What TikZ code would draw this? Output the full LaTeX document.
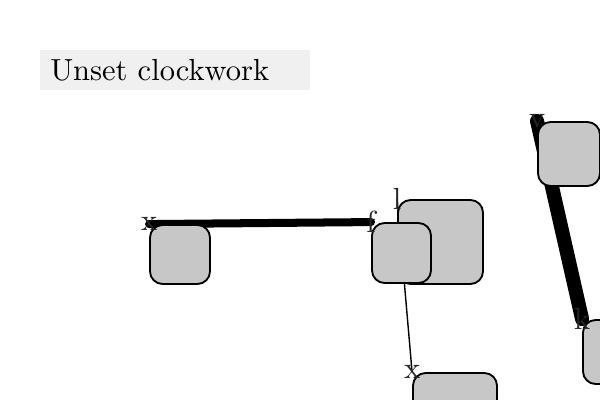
\documentclass[tikz,border=0pt]{standalone}
\usepackage{tikz}
\usetikzlibrary{positioning, calc, backgrounds}

\newcommand{\bigtxt}[1]{\scalebox{2.17}{#1}}

\begin{document}
\begin{tikzpicture}[
    x=0.025cm, y=-0.025cm,
    blob/.style={draw, line width=1.3pt, fill=black!22, rounded corners=9pt, inner sep=0pt},
    tag/.style={text=black!85, inner sep=0pt},
    title/.style={fill=black!6, anchor=north west, minimum height=1cm, text width=6.25cm, inner xsep=0.25cm, align=left},
    wire/.style={line width=1pt},
    heavy/.style={line width=5.7pt, line cap=round},
    heavier/.style={line width=10pt, line cap=round}
]
    \useasboundingbox (0,0) rectangle (600,400);

    % --- Title ---
    \node[title] (head) at (40,50) {\bigtxt{Unset clockwork}};

    % --- Boxes ---
    \node[blob, minimum width=2.125cm, minimum height=2.1cm] (nl) at (440.5,242) {};
    \node[blob, minimum width=1.5cm, minimum height=1.475cm] (nx) at (180,254.5) {};
    \node[blob, minimum width=1.475cm, minimum height=1.5cm] (nf) at (401.5,253) {};
    \node[blob, minimum width=1.55cm, minimum height=1.6cm] (nv) at (569,154) {};
    \node[blob, minimum width=1.55cm, minimum height=1.6cm] (nk) at (614,352) {};
    \node[blob, minimum width=2.1cm, minimum height=1.6cm] (ny) at (455,405) {};

    % --- Links ---
    \begin{pgfonlayer}{background}
        \draw[heavy] (nx.north west) -- (nf.north west);
        \draw[wire] (nl.north west) -- (ny.north west);
        \draw[heavier] (nv.north west) -- (nk.north west);
    \end{pgfonlayer}

    % --- Corner tags ---
    \node[tag] at (nx.north west) {\bigtxt{x}};
    \node[tag] at (nf.north west) {\bigtxt{f}};
    \node[tag] at (nl.north west) {\bigtxt{l}};
    \node[tag] at (nv.north west) {\bigtxt{v}};
    \node[tag] at (nk.north west) {\bigtxt{k}};
    \node[tag] at (ny.north west) {\bigtxt{x}};

\end{tikzpicture}
\end{document}
